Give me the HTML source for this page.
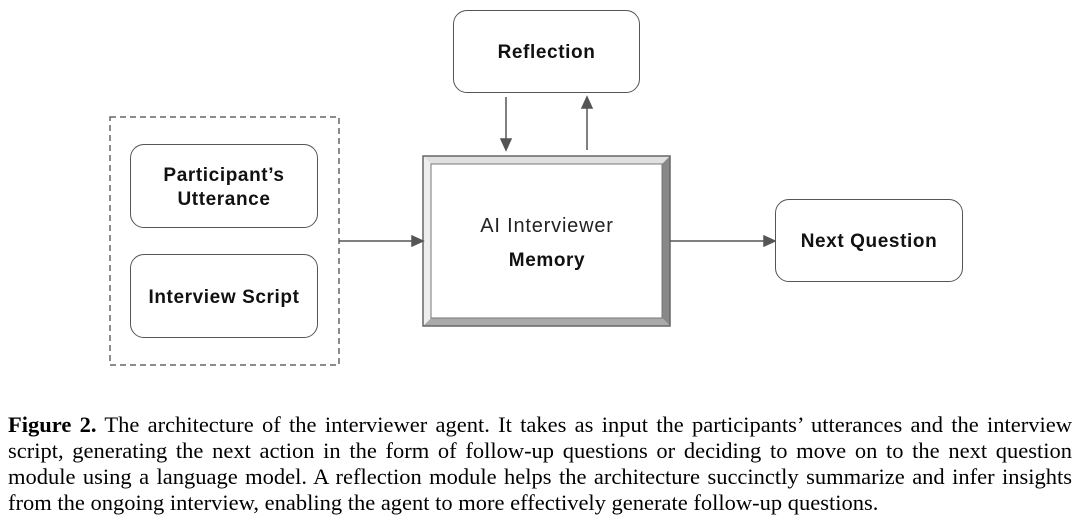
<!DOCTYPE html>
<html><head><style>
body{margin:0;width:1080px;height:523px;background:#fff;position:relative;overflow:hidden;font-family:"Liberation Sans",sans-serif}
.b{position:absolute;border:1.5px solid #555;border-radius:14px;background:#fff;display:flex;align-items:center;justify-content:center;text-align:center;font-weight:bold;font-size:19px;letter-spacing:0.6px;color:#111;line-height:24px;box-sizing:border-box;padding-top:3px}
.cap{position:absolute;left:8px;width:1064px;font-family:"Liberation Serif",serif;font-size:22.5px;line-height:26px;text-align:justify;text-align-last:justify;color:#000;white-space:nowrap}
</style></head><body>
<svg width="1080" height="380" style="position:absolute;left:0;top:0">
<rect x="110" y="117" width="229" height="248" fill="none" stroke="#666" stroke-width="1.5" stroke-dasharray="6,4"/>
<polygon points="423,156 670,156 662,164 431,164" fill="#e0e0e0"/>
<polygon points="670,156 670,326 662,318 662,164" fill="#888"/>
<polygon points="423,326 670,326 662,318 431,318" fill="#aaa"/>
<polygon points="423,156 431,164 431,318 423,326" fill="#eee"/>
<rect x="423" y="156" width="247" height="170" fill="none" stroke="#666" stroke-width="1.5"/>
<rect x="431" y="164" width="231" height="154" fill="#fff" stroke="#777" stroke-width="1"/>
<g stroke="#555" stroke-width="1.5" fill="#555">
<line x1="339" y1="241" x2="414" y2="241"/><polygon points="423,241 412,236 412,246"/>
<line x1="670" y1="241" x2="766" y2="241"/><polygon points="775,241 764,236 764,246"/>
<line x1="506" y1="97" x2="506" y2="141"/><polygon points="506,150 501,139 511,139"/>
<line x1="587" y1="150" x2="587" y2="106"/><polygon points="587,97 582,108 592,108"/>
</g>
<text x="547" y="232" text-anchor="middle" font-family="Liberation Sans" font-size="20" letter-spacing="0.8" fill="#222">AI Interviewer</text>
<text x="547" y="266" text-anchor="middle" font-family="Liberation Sans" font-weight="bold" font-size="19" letter-spacing="0.6" fill="#111">Memory</text>
</svg>
<div class="b" style="left:453px;top:10px;width:187px;height:83px">Reflection</div>
<div class="b" style="left:130px;top:144px;width:188px;height:84px">Participant’s<br>Utterance</div>
<div class="b" style="left:130px;top:254px;width:188px;height:84px">Interview Script</div>
<div class="b" style="left:775px;top:199px;width:188px;height:83px">Next Question</div>
<div class="cap" style="top:412px;white-space:normal"><b>Figure 2.</b> The architecture of the interviewer agent. It takes as input the participants’ utterances and the interview</div>
<div class="cap" style="top:438px;white-space:normal">script, generating the next action in the form of follow-up questions or deciding to move on to the next question</div>
<div class="cap" style="top:464px;white-space:normal">module using a language model. A reflection module helps the architecture succinctly summarize and infer insights</div>
<div class="cap" style="top:490px;text-align-last:left">from the ongoing interview, enabling the agent to more effectively generate follow-up questions.</div>
</body></html>
